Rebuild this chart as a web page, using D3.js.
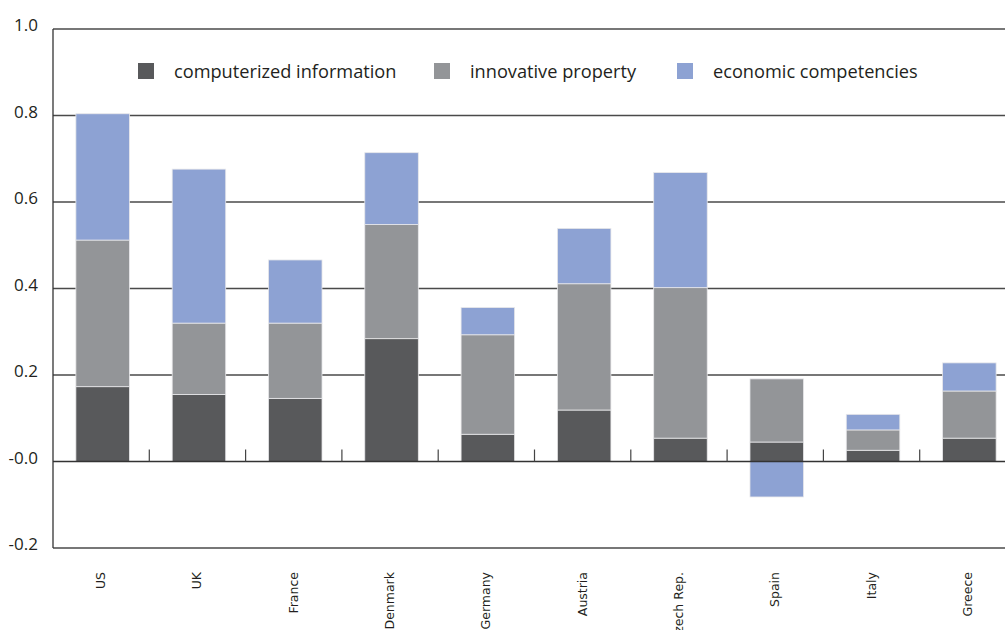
<!DOCTYPE html>
<html>
<head>
<meta charset="utf-8">
<script src="https://cdn.jsdelivr.net/npm/d3@7"></script>
<style>
  body { margin: 0; background: #fff; }
  svg { display: block; }
</style>
</head>
<body>
<script>
"use strict";

// chart data
const countries = ["US", "UK", "France", "Denmark", "Germany", "Austria", "Czech Rep.", "Spain", "Italy", "Greece"];
const computerized = [0.173, 0.155, 0.146, 0.284, 0.063, 0.119, 0.054, 0.045, 0.026, 0.054];
const innovative = [0.339, 0.165, 0.174, 0.264, 0.230, 0.292, 0.348, 0.146, 0.047, 0.109];
const economic = [0.292, 0.356, 0.146, 0.166, 0.063, 0.128, 0.266, -0.082, 0.036, 0.065];
const seriesNames = ["computerized information", "innovative property", "economic competencies"];
const yTicks = [1.0, 0.8, 0.6, 0.4, 0.2, 0.0, -0.2];
const yTickLabels = ["1.0", "0.8", "0.6", "0.4", "0.2", "-0.0", "-0.2"];

const colors = ["#58595b", "#939598", "#8da2d3"];

// SVG dimensions
const w = 1005;
const h = 630;
const left = 53;

const svg = d3.select("body").append("svg").attr("width", w).attr("height", h);

const rows = countries.map((c, i) => ({
  country: c,
  s0: computerized[i],
  s1: innovative[i],
  s2: economic[i]
}));

const stack = d3.stack().keys(["s0", "s1", "s2"]).offset(d3.stackOffsetDiverging);
const layers = stack(rows);

const xScale = d3.scaleBand().domain(countries).range([left, left + 96.3 * 10]).paddingInner(0.444).paddingOuter(0.222);
const yScale = d3.scaleLinear().domain([-0.2, 1.0]).range([548, 29]);

// gridlines behind the bars
svg
  .append("g")
  .selectAll("line")
  .data(yTicks.filter((t) => t !== 0))
  .enter()
  .append("line")
  .attr("x1", left)
  .attr("x2", w)
  .attr("y1", (d) => yScale(d))
  .attr("y2", (d) => yScale(d))
  .attr("stroke", "#4a4a4a")
  .attr("stroke-width", 1.3);

// y tick labels
svg
  .append("g")
  .selectAll("text")
  .data(yTicks)
  .enter()
  .append("text")
  .attr("x", 38)
  .attr("y", (d) => yScale(d) + 2)
  .attr("text-anchor", "end")
  .attr("font-family", "'Open Sans', sans-serif")
  .attr("font-size", 17)
  .attr("fill", "#231f20")
  .text((d, i) => yTickLabels[i]);

// bars
svg
  .append("g")
  .selectAll("g")
  .data(layers)
  .enter()
  .append("g")
  .attr("fill", (d, i) => colors[i])
  .selectAll("rect")
  .data((d) => d)
  .enter()
  .append("rect")
  .attr("x", (d) => xScale(d.data.country) + 1.5)
  .attr("y", (d) => yScale(Math.max(d[0], d[1])))
  .attr("width", xScale.bandwidth())
  .attr("height", (d) => Math.abs(yScale(d[0]) - yScale(d[1])))
  .attr("stroke", "#e8e8ea")
  .attr("stroke-width", 0.8);

// zero line and category ticks
svg
  .append("line")
  .attr("x1", left)
  .attr("x2", w)
  .attr("y1", yScale(0))
  .attr("y2", yScale(0))
  .attr("stroke", "#333")
  .attr("stroke-width", 1.6);

svg
  .append("g")
  .selectAll("line")
  .data(countries.slice(1))
  .enter()
  .append("line")
  .attr("x1", (d) => xScale(d) - xScale.step() * 0.222)
  .attr("x2", (d) => xScale(d) - xScale.step() * 0.222)
  .attr("y1", yScale(0))
  .attr("y2", yScale(0) - 12)
  .attr("stroke", "#444")
  .attr("stroke-width", 1.2);

// y axis line
svg
  .append("line")
  .attr("x1", left)
  .attr("x2", left)
  .attr("y1", yScale(1.0))
  .attr("y2", yScale(-0.2))
  .attr("stroke", "#333")
  .attr("stroke-width", 1.3);

// x labels (rotated), Czech Rep. runs off the bottom as in the original
svg
  .append("g")
  .selectAll("text")
  .data(countries)
  .enter()
  .append("text")
  .attr("transform", (d) => `translate(${xScale(d) + xScale.bandwidth() / 2 + 4}, 572) rotate(-90)`)
  .attr("text-anchor", "end")
  .attr("font-family", "'DejaVu Sans', sans-serif")
  .attr("font-size", 12.5)
  .attr("fill", "#231f20")
  .text((d) => d);

// legend
const legendX = [138, 434, 677];
const legend = svg
  .append("g")
  .selectAll("g")
  .data(seriesNames)
  .enter()
  .append("g")
  .attr("transform", (d, i) => `translate(${legendX[i]}, 63)`);

legend
  .append("rect")
  .attr("width", 16)
  .attr("height", 16)
  .attr("fill", (d, i) => colors[i]);

legend
  .append("text")
  .attr("x", 36)
  .attr("y", 15)
  .attr("font-family", "'Open Sans', sans-serif")
  .attr("font-size", 18.2)
  .attr("fill", "#231f20")
  .text((d) => d);
</script>
</body>
</html>
